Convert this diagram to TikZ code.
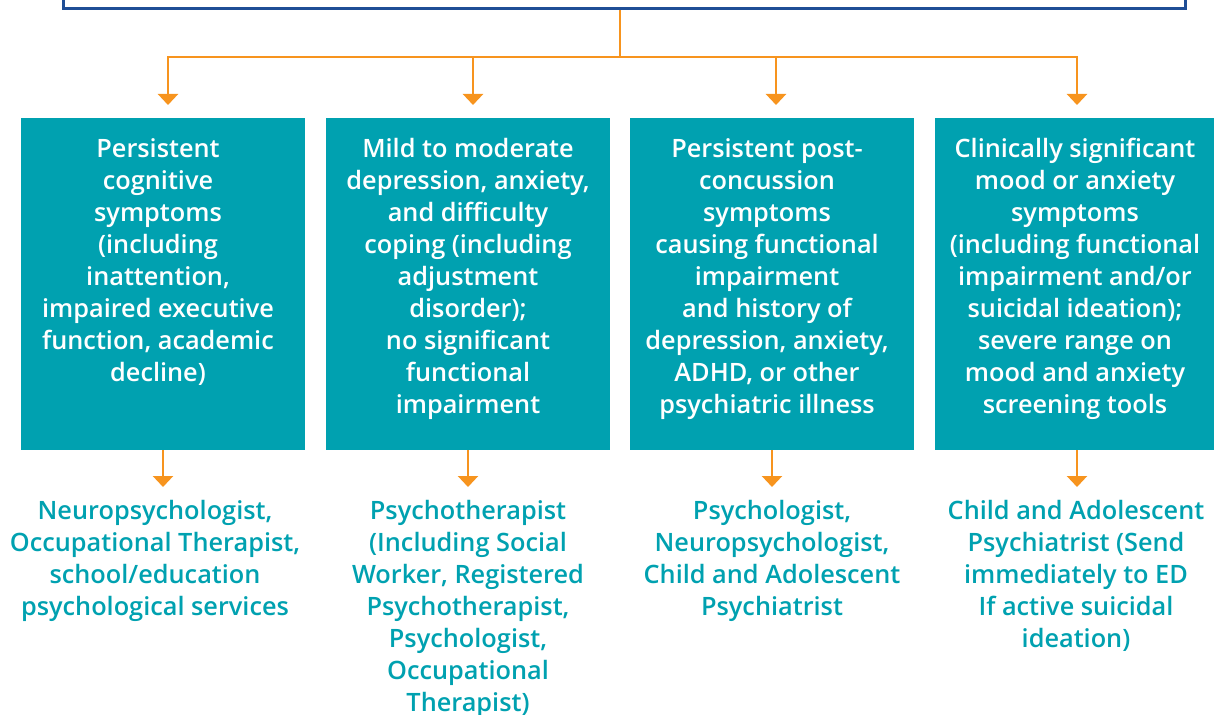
\documentclass[tikz,border=0pt]{standalone}
\usepackage{fontspec}
\setmainfont{Open Sans}[BoldFont={Open Sans Semibold}]
\usetikzlibrary{arrows.meta,positioning}

\definecolor{boxteal}{RGB}{0,161,176}
\definecolor{linkorange}{RGB}{247,148,30}
\definecolor{frameblue}{RGB}{31,78,150}

\tikzset{
    topbox/.style={draw=frameblue, line width=3pt, minimum width=1122pt, minimum height=80pt, inner sep=0pt},
    catbox/.style={fill=boxteal, minimum width=284pt, minimum height=332pt, anchor=north, inner sep=0pt},
    cattext/.style={text=white, font=\fontsize{25.3}{32}\selectfont\bfseries, align=center, anchor=north, inner sep=0pt},
    reftext/.style={text=boxteal, font=\fontsize{25.3}{32}\selectfont\bfseries, align=center, anchor=north, inner sep=0pt},
    link/.style={draw=linkorange, line width=2.5pt, -{Triangle[width=20pt,length=11pt]}},
}

\begin{document}
\begin{tikzpicture}[x=1pt,y=-1pt]
        \useasboundingbox (0,0) rectangle (1214,714);
        \clip (0,0) rectangle (1214,714);

        % frame at the top (cut off)
        \node[topbox] (top) at (624,-31) {};
        \coordinate (split) at (620,57);

        % the four boxes
        \node[catbox] (b1) at (163,118) {};
        \node[catbox] (b2) at (468,118) {};
        \node[catbox] (b3) at (772,118) {};
        \node[catbox] (b4) at (1077,118) {};

        \node[cattext] (t1) at (158,138) {Persistent\\cognitive\\symptoms\\(including\\inattention,\\impaired executive\\function, academic\\decline)};
        \node[cattext] (t2) at (468,138) {Mild to moderate\\depression, anxiety,\\and difficulty\\coping (including\\adjustment\\disorder);\\no significant\\functional\\impairment};
        \node[cattext] (t3) at (767,138) {Persistent post-\\concussion\\symptoms\\causing functional\\impairment\\and history of\\depression, anxiety,\\ADHD, or other\\psychiatric illness};
        \node[cattext] (t4) at (1075,138) {Clinically significant\\mood or anxiety\\symptoms\\(including functional\\impairment and/or\\suicidal ideation);\\severe range on\\mood and anxiety\\screening tools};

        % referrals
        \node[reftext] (r1) at (155,500) {Neuropsychologist,\\Occupational Therapist,\\school/education\\psychological services};
        \node[reftext] (r2) at (468,500) {Psychotherapist\\(Including Social\\Worker, Registered\\Psychotherapist,\\Psychologist,\\Occupational\\Therapist)};
        \node[reftext] (r3) at (772,500) {Psychologist,\\Neuropsychologist,\\Child and Adolescent\\Psychiatrist};
        \node[reftext] (r4) at (1076,500) {Child and Adolescent\\Psychiatrist (Send\\immediately to ED\\If active suicidal\\ideation)};

        % draw arrows
        \draw[draw=linkorange, line width=2.5pt] (top.south -| split) -- (split);
        \draw[link, shorten >=13pt] (split) -| ([xshift=5pt]b1.north);
        \draw[link, shorten >=13pt] (split) -| ([xshift=5pt]b2.north);
        \draw[link, shorten >=13pt] (split) -| ([xshift=4pt]b3.north);
        \draw[link, shorten >=13pt] (split) -| (b4.north);

        \draw[link, shorten >=13pt] (b1.south) -- (b1.south |- r1.north);
        \draw[link, shorten >=13pt] (b2.south) -- (b2.south |- r2.north);
        \draw[link, shorten >=13pt] (b3.south) -- (b3.south |- r3.north);
        \draw[link, shorten >=13pt] (b4.south) -- (b4.south |- r4.north);
    \end{tikzpicture}
\end{document}
